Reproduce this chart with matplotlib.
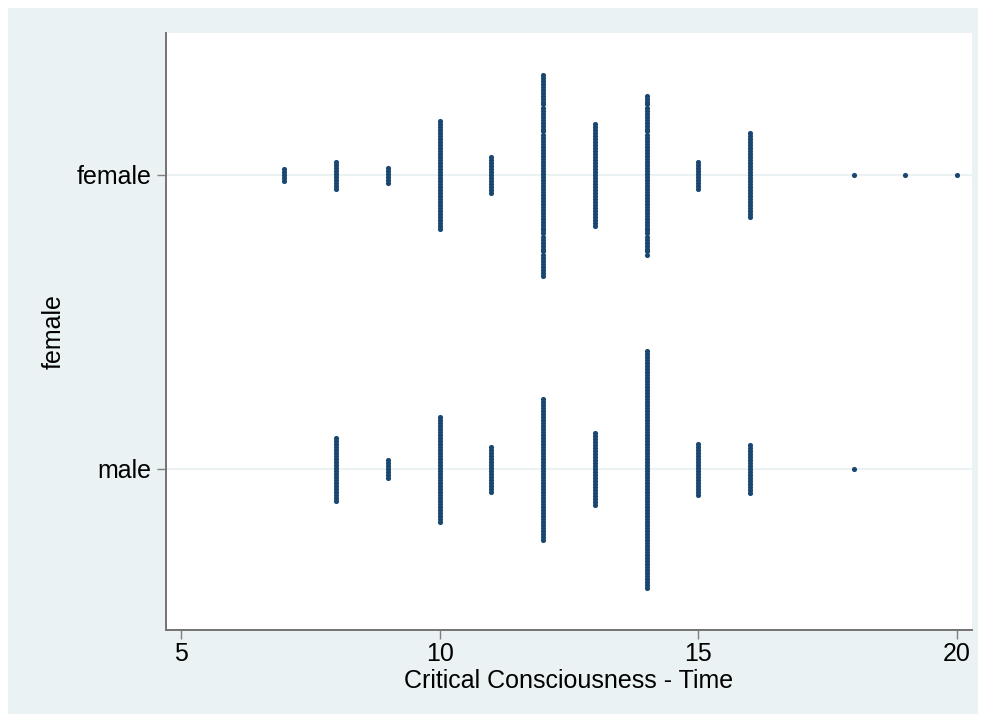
import matplotlib
matplotlib.use("Agg")
import matplotlib.pyplot as plt
from matplotlib.patches import Rectangle
import numpy as np

plt.rcParams['font.family'] = ['Liberation Sans', 'DejaVu Sans']

# Data: counts per score value for each group
female_values = [7, 8, 9, 10, 11, 12, 13, 14, 15, 16, 18, 19, 20]
female_counts = [5, 10, 6, 37, 13, 68, 35, 54, 10, 29, 1, 1, 1]
male_values = [8, 9, 10, 11, 12, 13, 14, 15, 16, 18]
male_counts = [22, 7, 36, 16, 48, 25, 80, 18, 17, 1]
categories = ["male", "female"]
x_ticks = [5, 10, 15, 20]

W, H = 986, 722
fig = plt.figure(figsize=(W / 100, H / 100), dpi=100)
fig.patch.set_facecolor('white')
fig.patches.append(Rectangle((8 / W, 8 / H), (W - 16) / W, (H - 16) / H,
                             transform=fig.transFigure, facecolor='#eaf2f3',
                             edgecolor='none', zorder=-10))

ax = fig.add_axes([166 / W, (H - 630) / H, (972 - 166) / W, (630 - 33) / H])
ax.set_zorder(5)
ax.set_facecolor('white')

step = 3.0 / 294.0  # vertical stacking step in category units
navy = '#1a476f'
for cat_idx, (vals, cnts) in enumerate([(male_values, male_counts),
                                         (female_values, female_counts)]):
    xs, ys = [], []
    for v, n in zip(vals, cnts):
        offs = (np.arange(n) - (n - 1) / 2.0) * step
        xs.extend([v] * n)
        ys.extend(cat_idx + offs)
    ax.plot(xs, ys, linestyle='none', marker='o', markersize=3.7,
            color=navy, markeredgewidth=0, zorder=3)

for c in range(len(categories)):
    ax.axhline(c, color='#eaf2f3', lw=1.5, zorder=1)

ax.set_xlim(5 - 15 / 51.73, 20 + 15 / 51.73)
ax.set_ylim(-(630 - 469) / 294.0, 1 + (175 - 33) / 294.0)
ax.set_xticks(x_ticks)
ax.set_yticks(range(len(categories)))
ax.set_yticklabels(categories)

for s in ['top', 'right']:
    ax.spines[s].set_visible(False)
for s in ['left', 'bottom']:
    ax.spines[s].set_color('#737373')
    ax.spines[s].set_linewidth(1.4)
ax.tick_params(axis='both', direction='out', length=6.5, width=1.0,
               color='#808080', labelsize=18, labelcolor='black')
ax.tick_params(axis='x', pad=2)
ax.tick_params(axis='y', pad=4)

ax.set_xlabel('Critical Consciousness - Time', fontsize=18, labelpad=2)
ax.set_ylabel('female', fontsize=18, labelpad=8)

fig.savefig('out.png', dpi=100, facecolor=fig.get_facecolor())
